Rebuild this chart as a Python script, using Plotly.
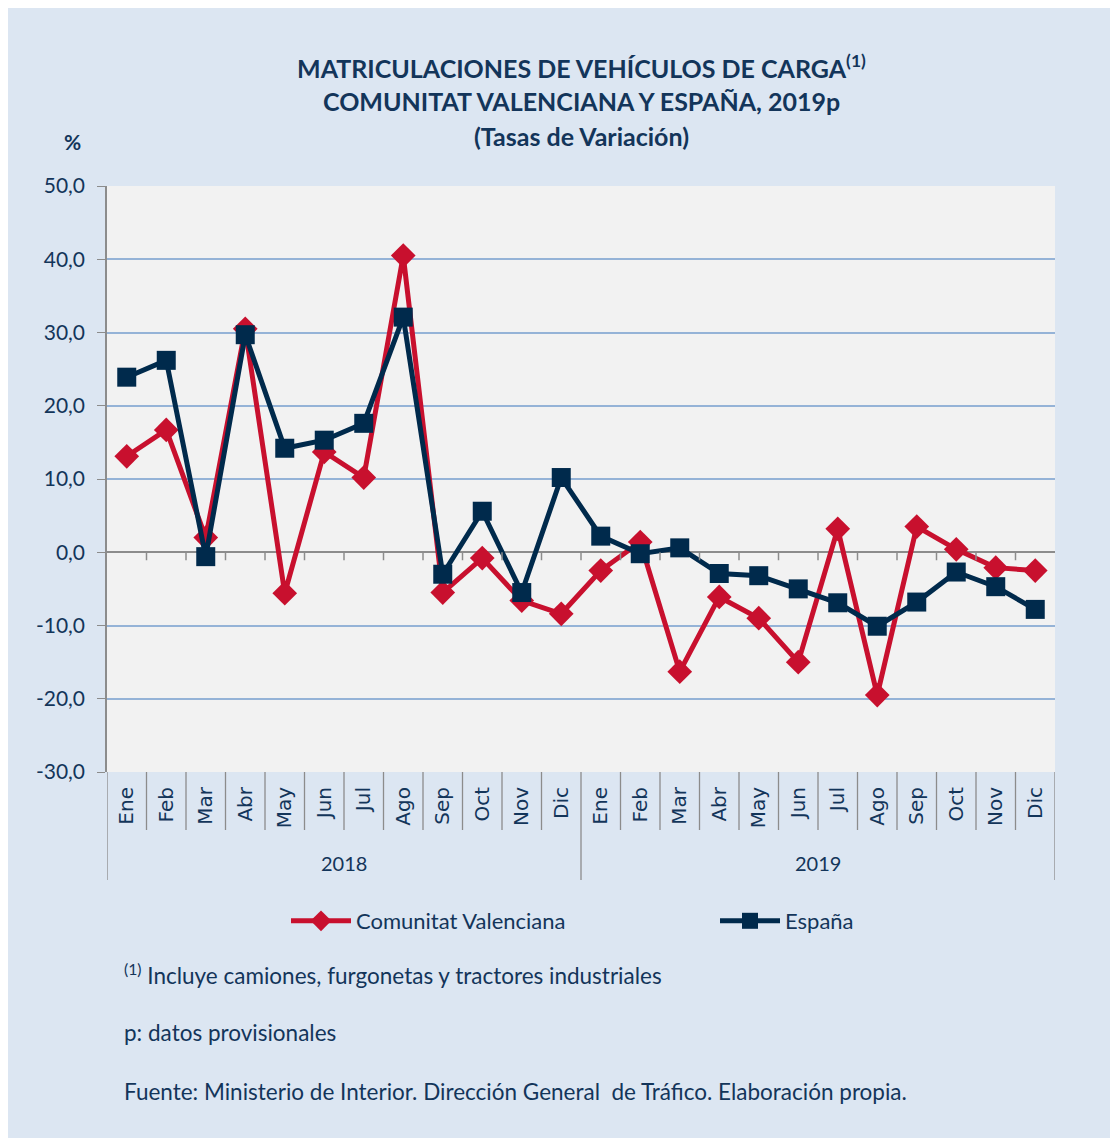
import plotly.graph_objects as go

months = ["Ene", "Feb", "Mar", "Abr", "May", "Jun", "Jul", "Ago", "Sep", "Oct", "Nov", "Dic"] * 2
years = ["2018", "2019"]
cv_values = [13.1, 16.7, 2.0, 30.5, -5.6, 13.7, 10.2, 40.5, -5.5, -0.8, -6.6, -8.4,
             -2.5, 1.4, -16.3, -6.1, -9.0, -15.0, 3.2, -19.5, 3.5, 0.4, -2.1, -2.5]
es_values = [23.9, 26.2, -0.6, 29.7, 14.2, 15.3, 17.6, 32.1, -3.0, 5.6, -5.5, 10.2,
             2.2, -0.2, 0.6, -2.9, -3.2, -5.0, -6.9, -10.1, -6.8, -2.7, -4.7, -7.8]
y_tick_vals = [-30, -20, -10, 0, 10, 20, 30, 40, 50]
y_tick_text = ["-30,0", "-20,0", "-10,0", "0,0", "10,0", "20,0", "30,0", "40,0", "50,0"]

NAVY = "#13355a"
RED = "#c8102e"
BLUE = "#002a4c"
x = list(range(len(months)))

# pixel geometry (page coords include 8px body margin)
PX0, PX1, PY0, PY1 = 107, 1055, 186, 772
W, H = 948, 586
def py(p):
    return (PY1 - p) / H
def pxp(p):
    return (p - PX0) / W

fig = go.Figure()
fig.add_trace(go.Scatter(x=x, y=cv_values, name="Comunitat Valenciana", mode="lines+markers",
                         line=dict(color=RED, width=5), legend="legend",
                         marker=dict(symbol="diamond", size=19, color=RED)))
fig.add_trace(go.Scatter(x=x, y=es_values, name="España", mode="lines+markers",
                         line=dict(color=BLUE, width=5), legend="legend2",
                         marker=dict(symbol="square", size=19, color=BLUE)))

shapes = []
shapes.append(dict(type="rect", xref="paper", yref="paper", x0=0, x1=1, y0=0, y1=1,
                   fillcolor="#f2f2f2", line=dict(width=0), layer="below"))
n = len(months)
for i in range(n + 1):
    xb = i - 0.5
    is_year = (i % 12 == 0)
    shapes.append(dict(type="line", xref="x", yref="paper", x0=xb, x1=xb, y0=0,
                       y1=py(880) if is_year else py(830),
                       line=dict(color="#8c8c8c", width=1.3)))
    if 0 < i < n:
        shapes.append(dict(type="line", xref="x", yref="y", ysizemode="pixel", yanchor=0,
                           x0=xb, x1=xb, y0=0, y1=-8, line=dict(color="#8c8c8c", width=1.5)))

title_lines = ["<b>MATRICULACIONES DE VEHÍCULOS DE CARGA<sup>(1)</sup></b>",
               "<b>COMUNITAT VALENCIANA Y ESPAÑA, 2019p</b>",
               "<b>(Tasas de Variación)</b>"]
annotations = []
for t, p in zip(title_lines, [67, 101, 136]):
    annotations.append(dict(text=t, xref="paper", yref="paper", x=pxp(581), y=py(p),
                            xanchor="center", yanchor="middle", showarrow=False,
                            font=dict(size=25, color=NAVY, family="Lato")))
annotations.append(dict(text="<b>%</b>", xref="paper", yref="paper", x=pxp(72), y=py(141),
                        xanchor="center", yanchor="middle", showarrow=False,
                        font=dict(size=21, color=NAVY, family="Lato")))
for k, yr in enumerate(years):
    annotations.append(dict(text=yr, xref="x", yref="paper", x=k * 12 + 5.5, y=py(863),
                            xanchor="center", yanchor="middle",
                            showarrow=False, font=dict(size=20, color=NAVY, family="Lato")))
foot = ["<sup>(1)</sup> Incluye camiones, furgonetas y tractores industriales",
        "p: datos provisionales",
        "Fuente: Ministerio de Interior. Dirección General  de Tráfico. Elaboración propia."]
for t, p in zip(foot, [974, 1032, 1091]):
    annotations.append(dict(text=t, xref="paper", yref="paper", x=pxp(122), y=py(p),
                            xanchor="left", yanchor="middle", showarrow=False,
                            font=dict(size=22.5, color=NAVY, family="Lato")))

leg_common = dict(orientation="h", xanchor="left", y=py(921), yanchor="middle",
                  font=dict(size=22, color=NAVY, family="Lato"),
                  bgcolor="rgba(0,0,0,0)", itemwidth=60)

fig.update_layout(
    width=1104, height=1130,
    margin=dict(l=PX0 - 8, r=1112 - PX1, t=PY0 - 8, b=1138 - PY1),
    paper_bgcolor="#dce6f2", plot_bgcolor="rgba(0,0,0,0)",
    shapes=shapes, annotations=annotations,
    showlegend=True,
    legend=dict(x=pxp(286), **leg_common),
    legend2=dict(x=pxp(715), **leg_common),
    xaxis=dict(range=[-0.5, n - 0.5], tickmode="array", tickvals=x, ticktext=months,
               tickangle=-90, showgrid=False, zeroline=False, showline=False, ticks="",
               ticklabelstandoff=10,
               tickfont=dict(size=20, color=NAVY, family="DejaVu Sans"), fixedrange=True),
    yaxis=dict(range=[-30, 50], tickmode="array", tickvals=y_tick_vals, ticktext=y_tick_text,
               showgrid=True, gridcolor="#95b3d7", gridwidth=1.6,
               zeroline=True, zerolinecolor="#8c8c8c", zerolinewidth=2,
               showline=True, linecolor="#8c8c8c", linewidth=1.5,
               ticks="outside", ticklen=8, tickcolor="#8c8c8c", ticklabelstandoff=8,
               tickfont=dict(size=21, color=NAVY, family="Lato")),
)

fig.write_html("out.html")
